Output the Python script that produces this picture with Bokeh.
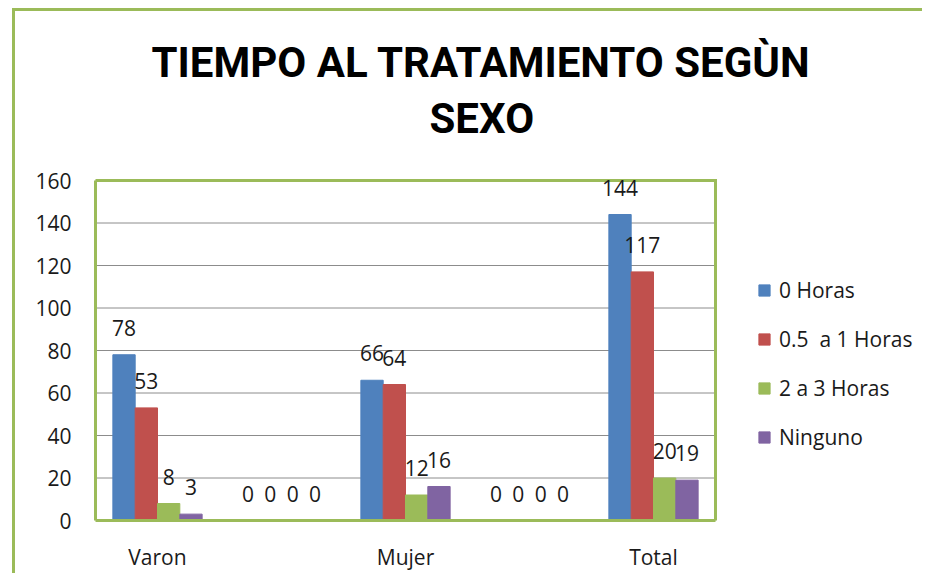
from bokeh.plotting import figure
from bokeh.models import (ColumnDataSource, Range1d, FixedTicker, Legend, LegendItem,
                          LabelSet, Title)
from bokeh.transform import dodge
from bokeh.core.properties import value
from bokeh.embed import file_html
from bokeh.resources import INLINE

# ---- data ----
categories = ["Varon", "", "Mujer", "", "Total"]
series_names = ["0 Horas", "0.5  a 1 Horas", "2 a 3 Horas", "Ninguno"]
horas_0 = [78, 0, 66, 0, 144]
horas_05_1 = [53, 0, 64, 0, 117]
horas_2_3 = [8, 0, 12, 0, 20]
ninguno = [3, 0, 16, 0, 19]
y_ticks = [0, 20, 40, 60, 80, 100, 120, 140, 160]
title_lines = ["TIEMPO AL TRATAMIENTO SEGÙN", "SEXO"]

colors = ["#4F81BD", "#C0504D", "#9BBB59", "#8064A2"]
green = "#9BBB59"
FONT = "Open Sans"
TFONT = "Roboto"

n_cat = len(categories)
cat_x = [i + 0.5 for i in range(n_cat)]
series_values = [horas_0, horas_05_1, horas_2_3, ninguno]
keys = ["s0", "s1", "s2", "s3"]
data = {"x": cat_x, "cat": categories}
for k, vals in zip(keys, series_values):
    data[k] = vals
    data[k + "_lbl"] = [str(v) for v in vals]
source = ColumnDataSource(data)

# layout (pixels)
W, H = 910, 565
LEFT, RIGHT, TOP, BOTTOM = 80, 2, 167, 56
plot_area_px = 620                      # width of the category plot area
frame_w = W - LEFT - RIGHT
frame_h = H - TOP - BOTTOM
x_end = n_cat * frame_w / plot_area_px   # extra room on the right holds the legend
y_max = y_ticks[-1]
y_end = y_max * frame_h / (frame_h - 2)  # 2px headroom so the top border is not clipped

p = figure(width=W, height=H, x_range=Range1d(0, x_end), y_range=Range1d(0, y_end),
           output_backend="svg", toolbar_location=None,
           min_border_left=LEFT, min_border_right=RIGHT, min_border_top=TOP,
           min_border_bottom=BOTTOM)
p.styles = {"margin-left": "12px", "margin-top": "8px",
            "border-left": "3px solid " + green, "border-top": "3px solid " + green}
p.background_fill_color = "white"
p.border_fill_color = "white"
p.outline_line_color = None

p.xgrid.grid_line_color = None
p.ygrid.grid_line_color = None
p.yaxis.ticker = FixedTicker(ticks=y_ticks)
p.yaxis.bounds = (0, y_max)
p.xaxis.ticker = FixedTicker(ticks=[x for x, c in zip(cat_x, categories) if c])
p.xaxis.major_label_overrides = {x: c for x, c in zip(cat_x, categories) if c}
p.xaxis.bounds = (0, n_cat)

for ax in (p.xaxis, p.yaxis):
    ax.axis_line_color = green
    ax.axis_line_width = 3
    ax.major_tick_line_color = None
    ax.minor_tick_line_color = None
    ax.major_label_text_font = FONT
    ax.major_label_text_font_size = "21px"
    ax.major_label_text_color = "#1a1a1a"
p.yaxis.major_label_standoff = 18
p.xaxis.major_label_standoff = 16

# horizontal gridlines across the category plot area only
p.segment(x0=0, x1=n_cat, y0=y_ticks, y1=y_ticks, line_color="#8c8c8c", line_width=1)

offsets = [-0.27, -0.09, 0.09, 0.27]
bar_w = 0.18
renderers = []
for k, off, col in zip(keys, offsets, colors):
    r = p.vbar(x=dodge("x", off), top=k, width=bar_w, source=source,
               fill_color=col, line_color=col, line_width=1)
    renderers.append(r)
    lbl = LabelSet(x=dodge("x", off), y=k, text=k + "_lbl", source=source,
                   text_align="center", text_baseline="middle", y_offset=27,
                   text_font=value(FONT), text_font_size="21px", text_color="#1a1a1a")
    p.add_layout(lbl)

# plot-area border: top and right edges (left/bottom are the green axis lines)
p.segment(x0=[0, n_cat], y0=[y_max, 0], x1=[n_cat, n_cat], y1=[y_max, y_max],
          line_color=green, line_width=3, line_cap="square")

legend = Legend(items=[LegendItem(label=n, renderers=[r]) for n, r in zip(series_names, renderers)],
                location=(plot_area_px + 42, 69), orientation="vertical",
                border_line_color=None, background_fill_alpha=0,
                glyph_width=14, glyph_height=14, label_height=24, spacing=21,
                label_standoff=8, padding=0, margin=0,
                label_text_font=FONT, label_text_font_size="21px", label_text_color="#1a1a1a")
p.add_layout(legend, "center")

# two-line title: p.title is the outer line, the added Title sits next to the frame
p.title.text = title_lines[0]
p.title.align = "left"
p.title.offset = 56
p.title.vertical_align = "bottom"
p.title.standoff = -61
p.title.text_font = TFONT
p.title.text_font_size = "42px"
p.title.text_font_style = "bold"
p.title.text_color = "black"
p.add_layout(Title(text=title_lines[1], align="left", offset=334, standoff=71,
                   vertical_align="bottom",
                   text_font=TFONT, text_font_size="42px", text_font_style="bold",
                   text_color="black"), "above")

open("out.html", "w").write(file_html(p, INLINE))
